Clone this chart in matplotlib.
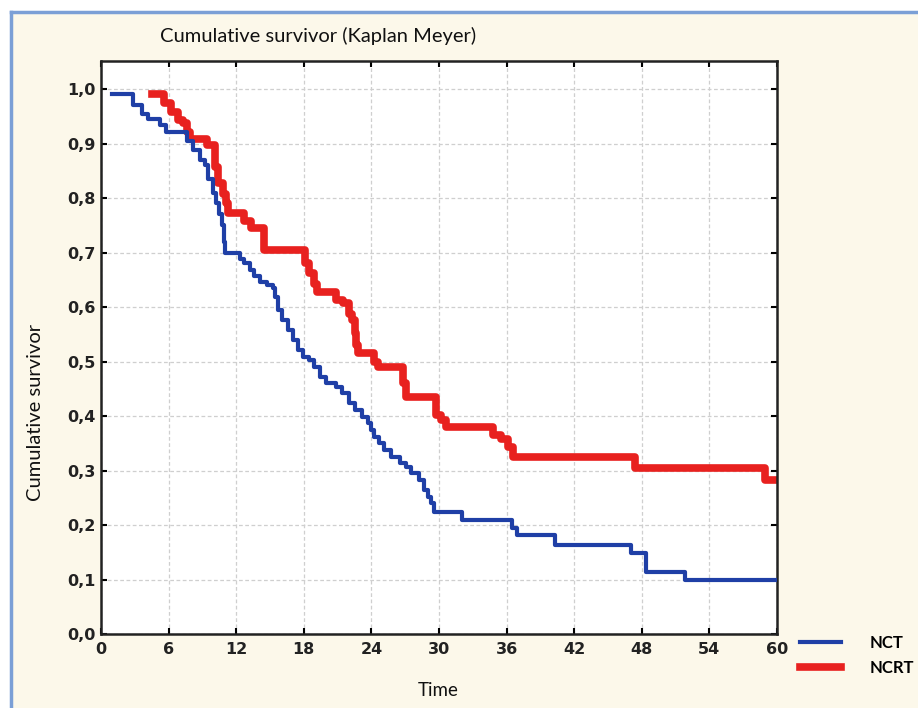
import matplotlib
matplotlib.use("Agg")
import matplotlib.pyplot as plt
from matplotlib.patches import Rectangle
from matplotlib.lines import Line2D

# ---- data ----
nct_time = [1.0, 2.8, 3.6, 4.2, 5.2, 5.8, 7.6, 8.2, 8.8, 9.2, 9.5, 9.9, 10.2, 10.5, 10.7,
            10.9, 11.0, 12.3, 12.7, 13.2, 13.6, 14.1, 14.7, 15.25, 15.4, 15.7, 16.1, 16.6,
            17.0, 17.5, 17.9, 18.5, 18.9, 19.4, 20.0, 20.9, 21.4, 22.0, 22.5, 23.2, 23.7,
            24.0, 24.2, 24.7, 25.1, 25.7, 26.5, 27.05, 27.5, 28.2, 28.7, 29.0, 29.3, 29.56,
            32.07, 36.5, 36.9, 40.3, 47.0, 48.4, 51.8, 60.0]
nct_surv = [0.99, 0.97, 0.955, 0.945, 0.934, 0.921, 0.905, 0.888, 0.87, 0.86, 0.835, 0.81,
            0.79, 0.77, 0.75, 0.72, 0.70, 0.689, 0.68, 0.668, 0.656, 0.646, 0.64, 0.634,
            0.619, 0.594, 0.576, 0.558, 0.539, 0.521, 0.509, 0.503, 0.49, 0.472, 0.46,
            0.454, 0.442, 0.423, 0.411, 0.399, 0.387, 0.374, 0.362, 0.35, 0.338, 0.325,
            0.313, 0.307, 0.295, 0.283, 0.264, 0.252, 0.240, 0.224, 0.209, 0.195, 0.182,
            0.164, 0.148, 0.114, 0.099, 0.099]

ncrt_time = [4.5, 5.6, 6.2, 6.8, 7.3, 7.6, 7.9, 9.4, 10.1, 10.4, 10.8, 11.1, 11.3, 12.7,
             13.3, 14.5, 18.1, 18.5, 18.9, 19.2, 20.9, 21.5, 22.0, 22.3, 22.5, 22.6, 22.8,
             24.2, 24.6, 26.8, 27.1, 29.7, 30.2, 30.6, 34.8, 35.5, 36.1, 36.6, 47.4, 58.9,
             60.0]
ncrt_surv = [0.99, 0.974, 0.958, 0.943, 0.937, 0.922, 0.909, 0.897, 0.857, 0.827, 0.808,
             0.79, 0.772, 0.757, 0.745, 0.705, 0.68, 0.662, 0.643, 0.628, 0.613, 0.607,
             0.588, 0.576, 0.552, 0.53, 0.515, 0.50, 0.49, 0.46, 0.435, 0.402, 0.393, 0.38,
             0.365, 0.358, 0.344, 0.325, 0.304, 0.283, 0.283]

series_labels = ["NCT", "NCRT"]
x_ticks = [0, 6, 12, 18, 24, 30, 36, 42, 48, 54, 60]
y_ticks = [0.0, 0.1, 0.2, 0.3, 0.4, 0.5, 0.6, 0.7, 0.8, 0.9, 1.0]
y_tick_labels = ["0,0", "0,1", "0,2", "0,3", "0,4", "0,5", "0,6", "0,7", "0,8", "0,9", "1,0"]

W, H = 918, 708
fig = plt.figure(figsize=(W / 100, H / 100), dpi=100)
fig.patch.set_facecolor("white")

# cream panel with a blue frame (top + left)
fig.add_artist(Rectangle((12 / W, 0), 1, 1 - 12 / H, transform=fig.transFigure,
                         facecolor="#fcf8ea", edgecolor="none", zorder=-10))
fig.add_artist(Line2D([11 / W, 1], [1 - 12 / H, 1 - 12 / H], transform=fig.transFigure,
                      color="#7b9fd6", lw=2.5))
fig.add_artist(Line2D([11 / W, 11 / W], [0, 1 - 12 / H], transform=fig.transFigure,
                      color="#7b9fd6", lw=2.5))

left, right, bottom, top = 101, 777, 634, 61
ax = fig.add_axes([left / W, 1 - bottom / H, (right - left) / W, (bottom - top) / H])
ax.set_facecolor("white")

blue = "#1f3fa6"
red = "#e8211f"
l1, = ax.step(nct_time, nct_surv, where="post", color=blue, lw=3.0, zorder=3)
l2, = ax.step(ncrt_time, ncrt_surv, where="post", color=red, lw=5.5, zorder=2)

ax.set_xlim(0, 60)
ax.set_ylim(0, 1.0514)
ax.set_xticks(x_ticks)
ax.set_yticks(y_ticks)
ax.set_yticklabels(y_tick_labels)
ax.grid(True, color="#cfcfcf", lw=0.9, ls=(0, (3, 2)))
ax.set_axisbelow(True)
for s in ax.spines.values():
    s.set_linewidth(1.8)
    s.set_color("#222222")
ax.tick_params(direction="in", length=4, width=1.5, top=True, right=True,
               labelsize=11.5, pad=4)
ax.tick_params(axis="x", pad=6)
for lab in ax.get_xticklabels() + ax.get_yticklabels():
    lab.set_fontweight("bold")
    lab.set_color("#222222")

fig.text(160 / W, 1 - 36 / H, "Cumulative survivor (Kaplan Meyer)", fontsize=14.5,
         family="Lato", ha="left", va="center", color="#111111")
fig.text(36 / W, 1 - 412 / H, "Cumulative survivor", fontsize=14.5, family="Lato",
         rotation=90, ha="center", va="center", color="#111111")
fig.text(438 / W, 1 - 691 / H, "Time", fontsize=13.5, family="Lato",
         ha="center", va="center", color="#111111")

leg = fig.legend([l1, l2], series_labels, loc="upper left",
                 bbox_to_anchor=(785 / W, 1 - 620 / H), frameon=False,
                 handlelength=2.45, handletextpad=1.7, labelspacing=0.55,
                 prop={"size": 12, "weight": "bold", "family": "Lato"})

fig.savefig("out.png", dpi=100, facecolor=fig.get_facecolor())
